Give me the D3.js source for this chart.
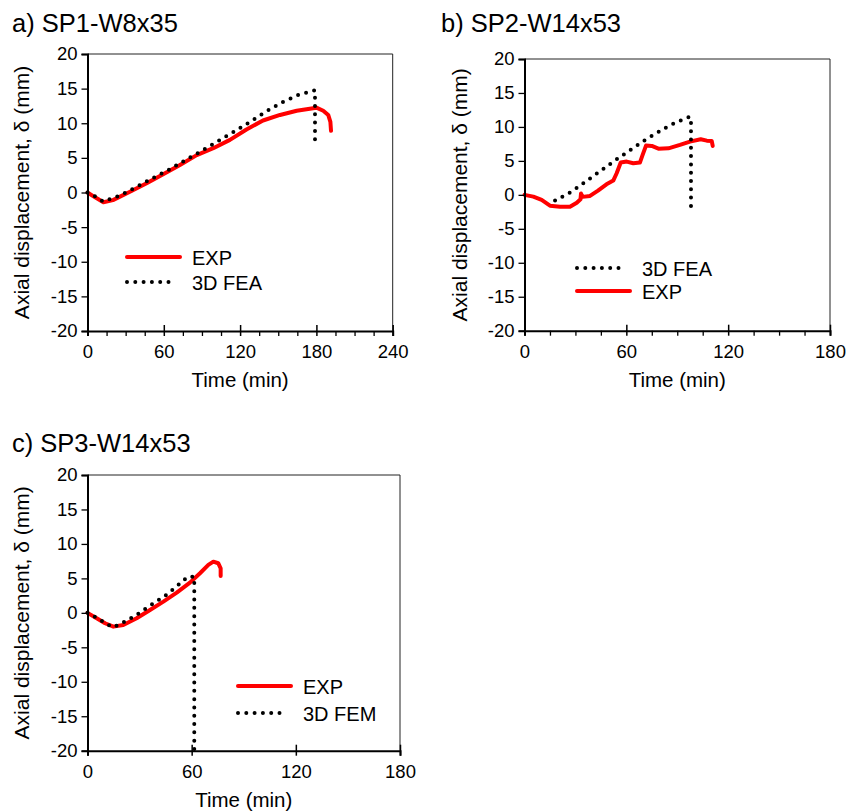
<!DOCTYPE html>
<html><head><meta charset="utf-8">
<script src="https://cdn.jsdelivr.net/npm/d3@7"></script>
<style>body{margin:0;background:#fff} text{font-family:"Liberation Sans",Arial,sans-serif;fill:#000}</style>
</head><body><svg id="chart" width="846" height="812"></svg>
<script>
// ---------- data ----------
const yTicks = [-20,-15,-10,-5,0,5,10,15,20];
const xTicksA = [0,60,120,180,240];
const xTicksB = [0,60,120,180];
const xTicksC = [0,60,120,180];
const titles = ["a) SP1-W8x35","b) SP2-W14x53","c) SP3-W14x53"];
const xTitle = "Time (min)";
const yTitle = "Axial displacement, δ (mm)";

const expA = [[0,0],[6,-0.7],[12.5,-1.4],[20,-1.1],[33.4,0.1],[46.5,1.33],[57,2.4],[72.7,3.97],[85.9,5.4],[98.9,6.4],[112,7.6],[125,9.1],[138,10.4],[151.4,11.2],[164.5,11.8],[180,12.25],[185.4,11.8],[189.3,11.2],[191,10.2],[191.5,8.9]];
const feaA = [[0,0],[6.4,-0.6],[12.45,-1.32],[25.6,-0.41],[38.1,0.75],[51,2.05],[63.8,3.25],[76.7,4.65],[89.8,6.0],[102.9,7.44],[115.2,8.78],[127.8,10.2],[140.1,11.67],[152.7,13.0],[165.8,14.1],[178.9,14.75],[178.9,6.6]];

const expB = [[0,0],[5.2,-0.26],[10.1,-0.75],[15,-1.59],[20.9,-1.74],[26.8,-1.74],[30.8,-1.15],[33,-0.65],[33.3,0.2],[34.2,-0.3],[38.6,-0.16],[43.3,0.62],[48.3,1.55],[52.3,2.1],[54.3,3.18],[56.7,4.75],[60.2,4.9],[64.1,4.65],[68,4.75],[69.6,5.88],[71.6,7.25],[75,7.2],[78.9,6.8],[84.8,6.85],[91.6,7.35],[97.5,7.84],[103.8,8.19],[107.4,7.98],[110.3,7.93],[110.9,7.2]];
const feaB = [[18,-0.85],[27.8,0.48],[36.6,2.05],[54.3,5.24],[72,8.23],[85.7,10.25],[90.7,10.8],[92.6,11.03],[97.5,11.52],[98.1,11.3],[98.1,-2.2]];

const expC = [[0,0],[5.3,-0.79],[10.1,-1.51],[14.9,-2.0],[20.6,-1.76],[28.3,-0.79],[36,0.42],[43.7,1.63],[51.4,2.94],[59,4.39],[64.8,5.75],[69.6,6.95],[72.5,7.43],[75.3,7.2],[76.7,6.47],[76.7,5.36]];
const femC = [[0,0],[4.7,-0.64],[9.5,-1.36],[14.3,-2.09],[18.7,-1.66],[27.9,-0.35],[36.6,1.15],[45.6,2.65],[53.9,4.39],[57.7,5.25],[61.5,5.25],[61.5,-20]];

// ---------- layout ----------
const svg = d3.select("#chart");
const RED = "#ff0000";
const FONT = "Liberation Sans, Arial, sans-serif";

const panels = [
  {title: titles[0], tx: 12, ty: 32, x0: 87.5, x1: 392.7, y0: 54, y1: 331, xmax: 240, xticks: xTicksA, minor: 15, ytx: 28.5,
   series: [{d: expA, type: "exp"}, {d: feaA, type: "fea"}],
   legend: {x: 127, y: 257, gap: 25, items: [{type:"exp", label:"EXP"},{type:"fea", label:"3D FEA"}]}},
  {title: titles[1], tx: 441, ty: 32, x0: 524.5, x1: 830, y0: 59, y1: 330.7, xmax: 180, xticks: xTicksB, minor: 15, ytx: 467,
   series: [{d: expB, type: "exp"}, {d: feaB, type: "fea"}],
   legend: {x: 577, y: 268, gap: 23, items: [{type:"fea", label:"3D FEA"},{type:"exp", label:"EXP"}]}},
  {title: titles[2], tx: 12, ty: 452, x0: 87.5, x1: 400, y0: 475, y1: 750.7, xmax: 180, xticks: xTicksC, minor: null, ytx: 28.5,
   series: [{d: expC, type: "exp"}, {d: femC, type: "fea"}],
   legend: {x: 238, y: 686, gap: 27, items: [{type:"exp", label:"EXP"},{type:"fea", label:"3D FEM"}]}}
];

function styleLine(sel, type) {
  if (type === "exp") {
    sel.attr("stroke", RED).attr("stroke-width", 4).attr("stroke-linejoin","round").attr("stroke-linecap","round");
  } else {
    sel.attr("stroke", "#000").attr("stroke-width", 4).attr("stroke-linecap","round").attr("stroke-dasharray","0 8.3");
  }
}

panels.forEach((p, i) => {
  const g = svg.append("g");
  const x = d3.scaleLinear().domain([0, p.xmax]).range([p.x0, p.x1]);
  const y = d3.scaleLinear().domain([-20, 20]).range([p.y1, p.y0]);

  // title
  g.append("text").attr("x", p.tx).attr("y", p.ty).attr("font-size", 25.5).text(p.title);

  // frame top/right
  g.append("path").attr("d", `M${p.x0},${p.y0}H${p.x1}V${p.y1}`).attr("fill","none").attr("stroke","#222").attr("stroke-width",1);

  // clip
  const cid = "clip" + i;
  svg.append("clipPath").attr("id", cid).append("rect")
    .attr("x", p.x0 - 3).attr("y", p.y0).attr("width", p.x1 - p.x0 + 3).attr("height", p.y1 - p.y0 + 2);

  const line = d3.line().x(d => x(d[0])).y(d => y(d[1]));
  const plot = g.append("g").attr("clip-path", `url(#${cid})`);
  p.series.forEach(s => {
    plot.append("path").datum(s.d).attr("d", line).attr("fill","none").call(styleLine, s.type);
  });

  // y axis
  const yAxis = d3.axisLeft(y).tickValues(yTicks).tickSize(6).tickPadding(4).tickFormat(d => String(d));
  const ya = g.append("g").attr("transform", `translate(${p.x0},0)`).call(yAxis);
  ya.select(".domain").attr("stroke","#000").attr("stroke-width",2);
  ya.selectAll(".tick line").attr("stroke","#000").attr("stroke-width",1.3);
  ya.selectAll(".tick text").attr("font-size",18.5).attr("font-family",FONT).attr("fill","#000");

  // x minor ticks
  if (p.minor) {
    const minors = d3.range(0, p.xmax + 0.1, p.minor).filter(v => v % 60 !== 0);
    const xMinor = d3.axisBottom(x).tickValues(minors).tickSize(5).tickFormat("");
    const xm = g.append("g").attr("transform", `translate(0,${p.y1})`).call(xMinor);
    xm.select(".domain").remove();
    xm.selectAll(".tick line").attr("stroke","#000").attr("stroke-width",1.3);
  }
  // x axis
  const xAxis = d3.axisBottom(x).tickValues(p.xticks).tickSize(5).tickPadding(9).tickFormat(d => String(d));
  const xa = g.append("g").attr("transform", `translate(0,${p.y1})`).call(xAxis);
  xa.select(".domain").attr("stroke","#000").attr("stroke-width",2);
  xa.selectAll(".tick line").attr("stroke","#000").attr("stroke-width",1.5).attr("y1",-6);
  xa.selectAll(".tick text").attr("font-size",18.5).attr("font-family",FONT).attr("fill","#000");

  // axis titles
  g.append("text").attr("x", (p.x0 + p.x1) / 2).attr("y", p.y1 + 56).attr("text-anchor","middle").attr("font-size",20.5).text(xTitle);
  g.append("text").attr("transform", `translate(${p.ytx},${(p.y0 + p.y1) / 2}) rotate(-90)`)
    .attr("text-anchor","middle").attr("font-size",21).text(yTitle);

  // legend
  p.legend.items.forEach((it, k) => {
    const ly = p.legend.y + k * p.legend.gap;
    const len = it.type === "exp" ? 53 : 48;
    g.append("path").attr("d", `M${p.legend.x},${ly}H${p.legend.x + len}`).attr("fill","none").call(styleLine, it.type);
    g.append("text").attr("x", p.legend.x + 65).attr("y", ly + 7.5).attr("font-size",20).text(it.label);
  });
});
</script></body></html>
